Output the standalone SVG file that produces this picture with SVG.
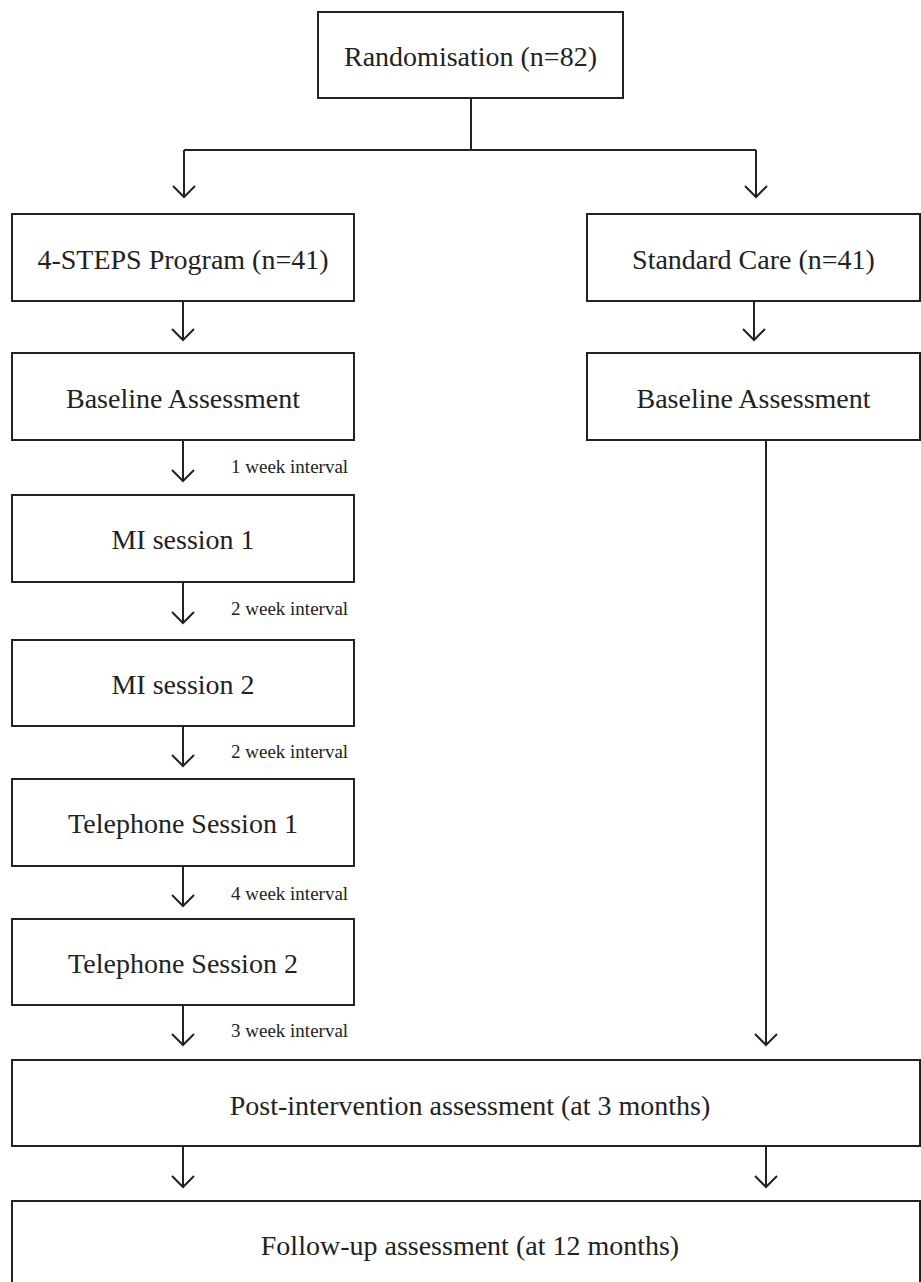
<svg xmlns="http://www.w3.org/2000/svg" width="921" height="1282" viewBox="0 0 921 1282">
<style>
.box{fill:#fff;stroke:#222;stroke-width:2}
.lbl{font-family:"Liberation Serif",serif;font-size:28px;fill:#222;text-anchor:middle}
.sm{font-family:"Liberation Serif",serif;font-size:19px;fill:#222}
.ln{fill:none;stroke:#222;stroke-width:2}
.ah{fill:none;stroke:#222;stroke-width:2;stroke-linejoin:miter}
</style>
<defs>
<path id="arr" class="ah" d="M-11,-11 L0,0 L11,-11"/>
</defs>
<rect width="921" height="1282" fill="#fff"/>
<g id="connectors">
<path class="ln" d="M471,98 V150 M184,150 H756 M184,150 V196 M756,150 V196"/>
<use href="#arr" x="184" y="197"/>
<use href="#arr" x="756" y="197"/>
<path class="ln" d="M183,301 V339 M754,301 V339"/>
<use href="#arr" x="183" y="340"/>
<use href="#arr" x="754" y="340"/>
<path class="ln" d="M183,440 V480"/>
<use href="#arr" x="183" y="481"/>
<path class="ln" d="M183,582 V622"/>
<use href="#arr" x="183" y="623"/>
<path class="ln" d="M183,726 V765"/>
<use href="#arr" x="183" y="766"/>
<path class="ln" d="M183,866 V905"/>
<use href="#arr" x="183" y="906"/>
<path class="ln" d="M183,1005 V1044"/>
<use href="#arr" x="183" y="1045"/>
<path class="ln" d="M766,440 V1044"/>
<use href="#arr" x="766" y="1045"/>
<path class="ln" d="M183,1146 V1186 M766,1146 V1186"/>
<use href="#arr" x="183" y="1187"/>
<use href="#arr" x="766" y="1187"/>
<text class="sm" x="231" y="473">1 week interval</text>
<text class="sm" x="231" y="615">2 week interval</text>
<text class="sm" x="231" y="758">2 week interval</text>
<text class="sm" x="231" y="900">4 week interval</text>
<text class="sm" x="231" y="1037">3 week interval</text>
</g>
<g id="randomisation"><rect class="box" x="318" y="12" width="305" height="86"/><text class="lbl" x="470.5" y="66">Randomisation (n=82)</text></g>
<g id="steps"><rect class="box" x="12" y="214" width="342" height="87"/><text class="lbl" x="183" y="269">4-STEPS Program (n=41)</text></g>
<g id="standard"><rect class="box" x="587" y="214" width="333" height="87"/><text class="lbl" x="753.5" y="269">Standard Care (n=41)</text></g>
<g id="baseline-left"><rect class="box" x="12" y="353" width="342" height="87"/><text class="lbl" x="183" y="408">Baseline Assessment</text></g>
<g id="baseline-right"><rect class="box" x="587" y="353" width="333" height="87"/><text class="lbl" x="753.5" y="408">Baseline Assessment</text></g>
<g id="mi1"><rect class="box" x="12" y="495" width="342" height="87"/><text class="lbl" x="183" y="549">MI session 1</text></g>
<g id="mi2"><rect class="box" x="12" y="640" width="342" height="86"/><text class="lbl" x="183" y="694">MI session 2</text></g>
<g id="tel1"><rect class="box" x="12" y="779" width="342" height="87"/><text class="lbl" x="183" y="833">Telephone Session 1</text></g>
<g id="tel2"><rect class="box" x="12" y="919" width="342" height="86"/><text class="lbl" x="183" y="973">Telephone Session 2</text></g>
<g id="post"><rect class="box" x="12" y="1060" width="908" height="86"/><text class="lbl" x="470" y="1115">Post-intervention assessment (at 3 months)</text></g>
<g id="followup"><rect class="box" x="12" y="1201" width="908" height="86"/><text class="lbl" x="470" y="1255">Follow-up assessment (at 12 months)</text></g>
</svg>
